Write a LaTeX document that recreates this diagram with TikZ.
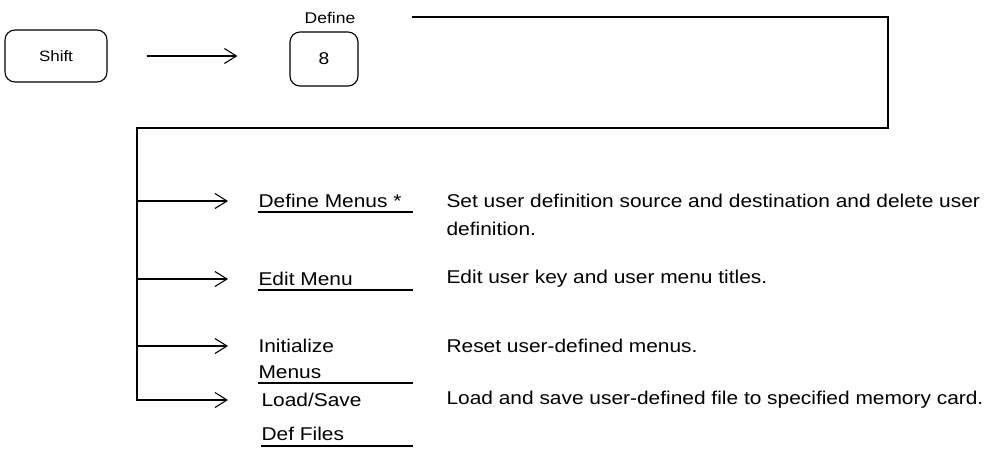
\documentclass[tikz,border=0pt]{standalone}
\usepackage{fontspec}
\setmainfont{Liberation Sans}[FakeStretch=1.13]
\usetikzlibrary{arrows.meta}
\begin{document}
\begin{tikzpicture}[x=1pt,y=-1pt,
  line width=1.1pt,
  keybox/.style={draw, rounded corners=10pt, inner sep=0pt, font=\fontsize{15}{17}\selectfont},
  small/.style={inner sep=0pt, font=\fontsize{15.5}{17}\selectfont},
  txt/.style={inner sep=0pt, anchor=west, font=\fontsize{18.5}{21}\selectfont},
  arr/.style={-{Straight Barb[length=12pt,width=15pt,line width=1.1pt]}},
  ul/.style={line width=1.3pt}]
\useasboundingbox (0,0) rectangle (991,472);
% top keys
\node[keybox, minimum width=102pt, minimum height=52pt] (shift) at (56,56) {Shift};
\node[keybox, minimum width=68pt, minimum height=54pt, font=\fontsize{17}{19}\selectfont] (eight) at (324,59) {8};
\node[small] (define) at (330,18) {Define};
\draw[arr, shorten <=39pt, shorten >=52pt] (shift.east) -- (shift.east -| eight.west);
% return line
\coordinate (tstart) at (412,17);
\coordinate (tr) at (888,17);
\coordinate (br) at (888,128);
\coordinate (bl) at (137,128);
\coordinate (busend) at (137,401);
\draw (tstart) -- (tr) -- (br) -- (bl) -- (busend);
% menu entries
\node[txt] (m1) at (258,201) {Define Menus *};
\node[txt] (m2) at (258,279) {Edit Menu};
\node[txt] (m3) at (258,346) {Initialize};
\node[txt] (m3b) at (258,372) {Menus};
\node[txt] (m4) at (261,400) {Load/Save};
\node[txt] (m4b) at (261,434) {Def Files};
% arrows
\foreach \m in {m1,m2,m3,m4}{
  \draw[arr] (bl |- \m.west) -- ++(91,0);
}
% underlines
\draw[ul] ([yshift=-11pt]m1.west) -- ++(155,0);
\draw[ul] ([yshift=-11pt]m2.west) -- ++(155,0);
\draw[ul] ([yshift=-11pt]m3b.west) -- ++(155,0);
\draw[ul] ([yshift=-12pt]m4b.west) -- ++(152,0);
% descriptions
\node[txt] (d1) at (446,201) {Set user definition source and destination and delete user};
\node[txt] (d1b) at (446,229) {definition.};
\node[txt] (d2) at (446,279) {Edit user key and user menu titles.};
\node[txt] (d3) at (446,346) {Reset user-defined menus.};
\node[txt] (d4) at (446,400) {Load and save user-defined file to specified memory card.};
\end{tikzpicture}
\end{document}
